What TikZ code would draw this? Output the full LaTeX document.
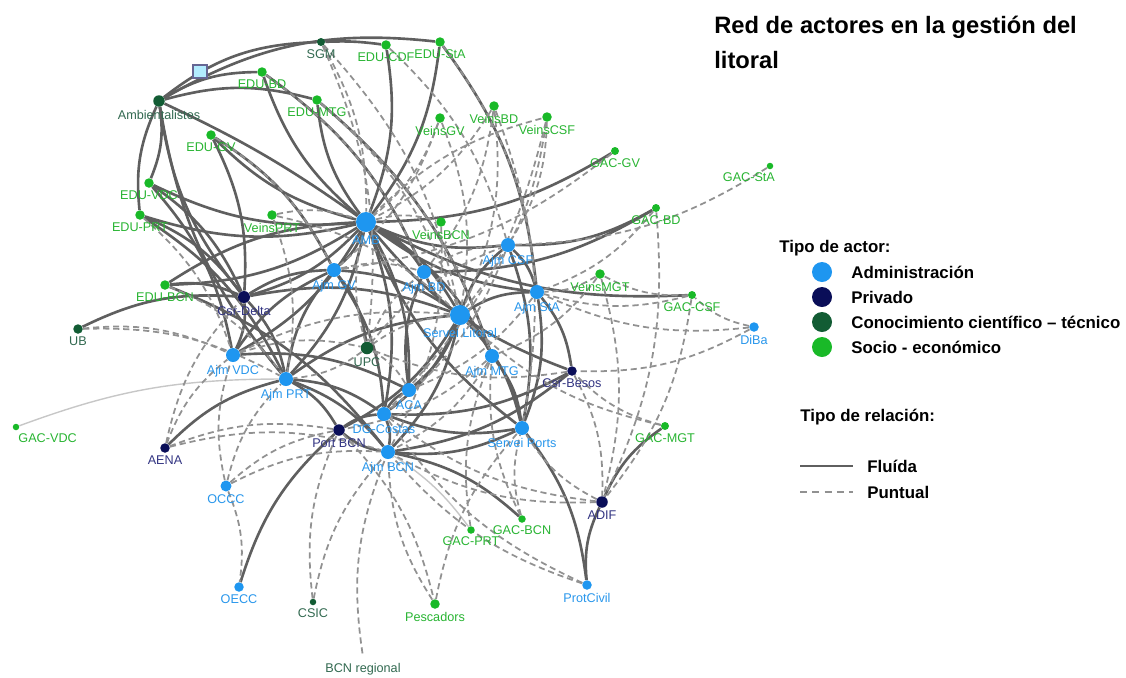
\documentclass[tikz,border=0pt]{standalone}
\usepackage{fontspec}
\setmainfont{Liberation Sans}
\usetikzlibrary{arrows.meta}

\definecolor{admc}{RGB}{30,150,240}
\definecolor{admt}{RGB}{40,150,235}
\definecolor{privc}{RGB}{10,14,88}
\definecolor{privt}{RGB}{50,52,130}
\definecolor{conoc}{RGB}{18,92,52}
\definecolor{conot}{RGB}{50,105,80}
\definecolor{socic}{RGB}{25,185,40}
\definecolor{socit}{RGB}{40,180,50}
\definecolor{fluc}{RGB}{95,95,95}
\definecolor{punc}{RGB}{145,145,145}

\pgfdeclarelayer{edges}
\pgfsetlayers{edges,main}

\begin{document}
\begin{tikzpicture}[x=0.02cm,y=-0.02cm,
  dot/.style={circle,inner sep=0pt,draw=none},
  big/.style={minimum size=0.4cm},
  mid/.style={minimum size=0.28cm},
  sml/.style={minimum size=0.19cm},
  tny/.style={minimum size=0.13cm},
  adm/.style={dot,fill=admc,label={[text=admt]below:#1}},
  priv/.style={dot,fill=privc,label={[text=privt]below:#1}},
  cono/.style={dot,fill=conoc,label={[text=conot]below:#1}},
  soci/.style={dot,fill=socic,label={[text=socit]below:#1}},
  every label/.style={font=\fontsize{7.2}{8}\selectfont,inner sep=1pt},
  label distance=0.5pt,
  fluida/.style={draw=fluc,line width=1.5pt,bend left=#1},
  fluida/.default=15,
  puntual/.style={draw=punc,line width=1pt,dash pattern=on 3.5pt off 2.2pt,bend left=#1},
  puntual/.default=15,
  leve/.style={draw=black!22,line width=0.8pt,bend left=10}]
\useasboundingbox (0,0) rectangle (1126,677);

% ---------- actores: administracion ----------
\node[adm=AMB,big] (amb) at (366,222) {};
\node[adm=Servei Litoral,big] (slit) at (460,315) {};
\node[adm=Ajm CSF,mid] (ajmcsf) at (508,245) {};
\node[adm=Ajm GV,mid] (ajmgv) at (334,270) {};
\node[adm=Ajm BD,mid] (ajmbd) at (424,272) {};
\node[adm=Ajm StA,mid] (ajmsta) at (537,292) {};
\node[adm=Ajm VDC,mid] (ajmvdc) at (233,355) {};
\node[adm=Ajm MTG,mid] (ajmmtg) at (492,356) {};
\node[adm=Ajm PRT,mid] (ajmprt) at (286,379) {};
\node[adm=ACA,mid] (aca) at (409,390) {};
\node[adm=DG-Costas,mid] (dgc) at (384,414) {};
\node[adm=Servei Ports,mid] (sports) at (522,428) {};
\node[adm=Ajm BCN,mid] (ajmbcn) at (388,452) {};
\node[adm=OCCC,minimum size=0.22cm] (occc) at (226,486) {};
\node[adm=OECC,sml] (oecc) at (239,587) {};
\node[adm=ProtCivil,sml] (protc) at (587,585) {};
\node[adm=DiBa,sml] (diba) at (754,327) {};
% ---------- actores: privado ----------
\node[priv=Csr-Delta,minimum size=0.24cm] (csrdelta) at (244,297) {};
\node[priv=Csr-Besos,sml] (csrbesos) at (572,371) {};
\node[priv=Port BCN,minimum size=0.23cm] (portbcn) at (339,430) {};
\node[priv=AENA,sml] (aena) at (165,448) {};
\node[priv=ADIF,minimum size=0.23cm] (adif) at (602,502) {};
% ---------- actores: conocimiento ----------
\node[cono=Ambientalistes,minimum size=0.23cm] (ambi) at (159,101) {};
\node[cono=SGM,minimum size=0.16cm] (sgm) at (321,42) {};
\node[cono=UPC,minimum size=0.25cm] (upc) at (367,348) {};
\node[cono=UB,sml] (ub) at (78,329) {};
\node[cono=CSIC,tny] (csic) at (313,602) {};
\node[dot,tny,label={[text=conot]below:BCN regional}] (bcnreg) at (363,657) {};
% ---------- actores: socio-economico ----------
\node[soci=EDU-BD,sml] (edubd) at (262,72) {};
\node[soci=EDU-CDF,sml] (educdf) at (386,45) {};
\node[soci=EDU-StA,sml] (edusta) at (440,42) {};
\node[soci=EDU-MTG,sml] (edumtg) at (317,100) {};
\node[soci=EDU-GV,sml] (edugv) at (211,135) {};
\node[soci=VeinsGV,sml] (veinsgv) at (440,118) {};
\node[soci=VeinsBD,sml] (veinsbd) at (494,106) {};
\node[soci=VeinsCSF,sml] (veinscsf) at (547,117) {};
\node[soci=GAC-GV,minimum size=0.16cm] (gacgv) at (615,151) {};
\node[dot,tny,fill=socic,label={[text=socit,xshift=-12pt]below:GAC-StA}] (gacsta) at (770,166) {};
\node[soci=EDU-VDC,sml] (eduvdc) at (149,183) {};
\node[soci=EDU-PRT,sml] (eduprt) at (140,215) {};
\node[soci=VeinsPRT,sml] (veinsprt) at (272,215) {};
\node[soci=VeinsBCN,sml] (veinsbcn) at (441,222) {};
\node[soci=GAC-BD,minimum size=0.16cm] (gacbd) at (656,208) {};
\node[soci=VeinsMGT,sml] (veinsmgt) at (600,274) {};
\node[soci=GAC-CSF,minimum size=0.16cm] (gaccsf) at (692,295) {};
\node[soci=EDU-BCN,sml] (edubcn) at (165,285) {};
\node[dot,tny,fill=socic,label={[text=socit,xshift=18pt]below:GAC-VDC}] (gacvdc) at (16,427) {};
\node[soci=GAC-MGT,minimum size=0.16cm] (gacmgt) at (665,426) {};
\node[soci=GAC-PRT,minimum size=0.15cm] (gacprt) at (471,530) {};
\node[soci=GAC-BCN,minimum size=0.15cm] (gacbcn) at (522,519) {};
\node[soci=Pescadors,sml] (pesc) at (435,604) {};

% icono
\draw[draw=black!70!blue!60,fill=blue!25!cyan!30,line width=1.2pt] (193,65) rectangle (207,78);

% ---------- relaciones ----------
\begin{pgfonlayer}{edges}
% fluidas
\draw[fluida=18] (ambi) to (edusta);
\draw[fluida=18] (ambi) to (sgm);
\draw[fluida=5] (sgm) to (educdf);
\draw[fluida=5] (ambi) to (amb);
\foreach \a/\b in {ambi/edubd,ambi/edumtg,ambi/eduvdc,eduprt/ambi,csrdelta/ambi,
    ajmprt/ambi,amb/edubd,amb/edumtg,educdf/amb,edusta/amb,amb/edugv,amb/eduvdc,
    amb/eduprt,amb/edubcn,amb/csrdelta,amb/ajmgv,amb/ajmvdc,amb/ajmprt,amb/ajmbd,amb/slit,
    ajmcsf/amb,ajmsta/amb,gacgv/amb,gaccsf/amb,csrbesos/amb,amb/dgc,amb/aca,sports/amb,
    amb/ajmmtg,slit/ajmbd,slit/ajmcsf,slit/ajmsta,slit/ajmmtg,slit/aca,slit/dgc,slit/ajmbcn,
    slit/portbcn,ajmgv/slit,csrdelta/slit,slit/sports,ajmprt/slit,edubcn/csrdelta,
    eduprt/csrdelta,eduvdc/csrdelta,csrdelta/ajmgv,csrdelta/ajmvdc,csrdelta/ajmprt,
    ub/csrdelta,edugv/csrdelta,ajmprt/ajmgv,ajmprt/portbcn,ajmprt/dgc,aena/ajmprt,
    ajmprt/ajmbcn,eduprt/ajmprt,ajmvdc/ajmgv,eduvdc/ajmvdc,ajmvdc/aca,edugv/ajmgv,
    ajmgv/upc,ajmgv/dgc,edubd/ajmbd,aca/ajmbd,gacbd/ajmbd,ajmcsf/ajmsta,ajmcsf/sports,
    gacbd/ajmcsf,ajmsta/csrbesos,ajmsta/sports,edusta/ajmsta,ajmmtg/sports,edumtg/ajmmtg,
    dgc/aca,dgc/ajmbcn,sports/dgc,portbcn/dgc,sports/ajmbcn,ajmbcn/gacbcn,csrbesos/ajmbcn,
    ajmbcn/portbcn,edubcn/ajmbcn,oecc/portbcn,sports/protc,protc/adif,adif/gacmgt,
    csrbesos/dgc,edubcn/amb}
  \draw[fluida] (\a) to (\b);
\draw[leve] (gacvdc) to (ajmprt);
\draw[leve] (ajmbcn) to (gacprt);
% puntuales
\foreach \a/\b in {sgm/upc,sgm/slit,sgm/amb,edumtg/ajmmtg,edubd/ajmbd,edugv/ajmgv,
    educdf/ajmcsf,edusta/ajmsta,veinsgv/ajmgv,veinsgv/slit,veinsgv/amb,veinsbd/ajmbd,
    veinsbd/slit,veinsbd/amb,veinsbd/sports,veinscsf/ajmcsf,veinscsf/slit,amb/veinscsf,
    veinscsf/dgc,veinsprt/ajmprt,veinsprt/amb,veinsbcn/ajmbcn,amb/veinsbcn,gacgv/ajmgv,
    gacbd/ajmsta,gacsta/ajmcsf,gaccsf/veinsmgt,gaccsf/ajmsta,diba/gaccsf,diba/csrbesos,
    diba/ajmsta,veinsmgt/ajmsta,veinsmgt/adif,veinsmgt/ajmmtg,gacmgt/csrbesos,gacmgt/slit,
    csrbesos/adif,csrbesos/upc,adif/sports,adif/ajmbcn,adif/dgc,gaccsf/adif,gacbcn/sports,
    gacbcn/ajmmtg,gacprt/ajmmtg,pesc/ajmbcn,portbcn/pesc,pesc/sports,csic/ajmbcn,
    csic/portbcn,bcnreg/ajmbcn,occc/oecc,occc/portbcn,occc/ajmbcn,occc/ajmvdc,occc/ajmprt,
    aena/portbcn,aena/ajmvdc,aena/csrdelta,aena/ajmbcn,ub/ajmvdc,ub/ajmprt,upc/amb,
    ajmvdc/upc,upc/ajmprt,upc/slit,upc/aca,upc/ajmbd,upc/ajmcsf,protc/ajmbcn,protc/dgc,
    eduprt/ajmvdc,edubcn/ajmprt,ajmvdc/slit,ajmgv/ajmbd,ajmbd/ajmcsf,ajmcsf/dgc,ajmsta/aca,
    ajmmtg/ajmbcn,ajmmtg/portbcn,veinsprt/slit,edumtg/slit,gacbd/adif}
  \draw[puntual] (\a) to (\b);
\end{pgfonlayer}

% ---------- titulo y leyenda ----------
\node[anchor=north west,inner sep=0pt,align=left,font=\bfseries\fontsize{13.5}{19.8}\selectfont]
  (titulo) at (714,16) {Red de actores en la gestión del\\litoral};
\node[anchor=west,inner sep=0pt,font=\bfseries\fontsize{9.6}{11}\selectfont]
  (tactor) at (779,248) {Tipo de actor:};
\foreach \c/\t [count=\i] in {admc/Administración,privc/Privado,
    conoc/Conocimiento científico – técnico,socic/Socio - económico}{
  \fill[\c] (822,247+25*\i) circle (0.2cm);
  \node[anchor=west,inner sep=0pt,font=\bfseries\fontsize{9.6}{11}\selectfont]
    (ley\i) at (851,247+25*\i) {\t};
}
\node[anchor=west,inner sep=0pt,font=\bfseries\fontsize{9.6}{11}\selectfont]
  (trel) at (800,417) {Tipo de relación:};
\coordinate (fa) at (800,466);
\coordinate (fb) at (853,466);
\coordinate (pa) at (800,492);
\coordinate (pb) at (853,492);
\draw[draw=fluc,line width=1.1pt] (fa) -- (fb);
\draw[draw=punc,line width=1.1pt,dash pattern=on 4pt off 3pt] (pa) -- (pb);
\node[anchor=west,inner sep=0pt,font=\bfseries\fontsize{9.6}{11}\selectfont] (tflu) at (867,466) {Fluída};
\node[anchor=west,inner sep=0pt,font=\bfseries\fontsize{9.6}{11}\selectfont] (tpun) at (867,492) {Puntual};
\end{tikzpicture}
\end{document}
